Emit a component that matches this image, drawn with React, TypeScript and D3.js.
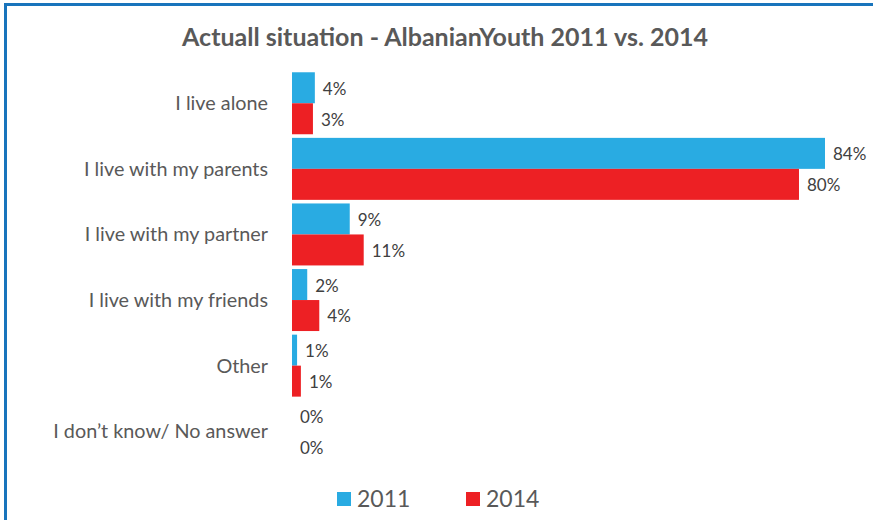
import React from "react";
import * as d3 from "d3";

const categories = [
  "I live alone",
  "I live with my parents",
  "I live with my partner",
  "I live with my friends",
  "Other",
  "I don’t know/ No answer",
];
const values2011 = [3.6, 84, 9.1, 2.4, 0.8, 0];
const values2014 = [3.3, 79.9, 11.3, 4.3, 1.4, 0];
const labels2011 = ["4%", "84%", "9%", "2%", "1%", "0%"];
const labels2014 = ["3%", "80%", "11%", "4%", "1%", "0%"];
const seriesNames = ["2011", "2014"];
const seriesColors = ["#29ABE2", "#ED2024"];

const W = 873;
const H = 520;
const FONT = "Lato, 'Open Sans', sans-serif";
const TEXT = "#595959";

export default function App() {
  const x = d3.scaleLinear().domain([0, 84]).range([292, 825]);
  const y = d3
    .scaleBand<string>()
    .domain(categories)
    .range([70.5, 464])
    .paddingInner(0.055)
    .paddingOuter(0.027);
  const sub = d3
    .scaleBand<string>()
    .domain(seriesNames)
    .range([0, y.bandwidth()]);
  const series = [
    { name: seriesNames[0], values: values2011, labels: labels2011, color: seriesColors[0] },
    { name: seriesNames[1], values: values2014, labels: labels2014, color: seriesColors[1] },
  ];

  return (
    <svg
      width={W}
      height={H}
      style={{ position: "absolute", left: 0, top: 0, background: "#fff" }}
      fontFamily={FONT}
    >
      <rect x={0} y={0} width={W} height={H} fill="#fff" />
      <line x1={4} y1={4.5} x2={W} y2={4.5} stroke="#1874BC" strokeWidth={3} />
      <line x1={5.5} y1={3} x2={5.5} y2={H} stroke="#1874BC" strokeWidth={3} />
      <text
        x={445}
        y={46}
        textAnchor="middle"
        fontSize={25}
        fontWeight="bold"
        fill={TEXT}
      >
        Actuall situation - AlbanianYouth 2011 vs. 2014
      </text>
      {categories.map((c) => (
        <text
          key={c}
          x={268}
          y={(y(c) as number) + y.bandwidth() / 2}
          dy="0.35em"
          textAnchor="end"
          fontSize={19.8}
          fill={TEXT}
        >
          {c}
        </text>
      ))}
      {series.map((s) =>
        categories.map((c, i) => {
          const y0 = (y(c) as number) + (sub(s.name) as number);
          return (
            <g key={s.name + c}>
              <rect
                x={x(0)}
                y={y0}
                width={x(s.values[i]) - x(0)}
                height={sub.bandwidth()}
                fill={s.color}
              />
              <text
                x={x(s.values[i]) + 8}
                y={y0 + sub.bandwidth() / 2 + 1}
                dy="0.35em"
                fontSize={17}
                fill="#404040"
              >
                {s.labels[i]}
              </text>
            </g>
          );
        })
      )}
      {series.map((s, k) => {
        const lx = k === 0 ? 337 : 466;
        return (
          <g key={"lg" + s.name}>
            <rect x={lx} y={492} width={14} height={14} fill={s.color} />
            <text x={lx + 20} y={507} fontSize={23} fill={TEXT}>
              {s.name}
            </text>
          </g>
        );
      })}
    </svg>
  );
}
